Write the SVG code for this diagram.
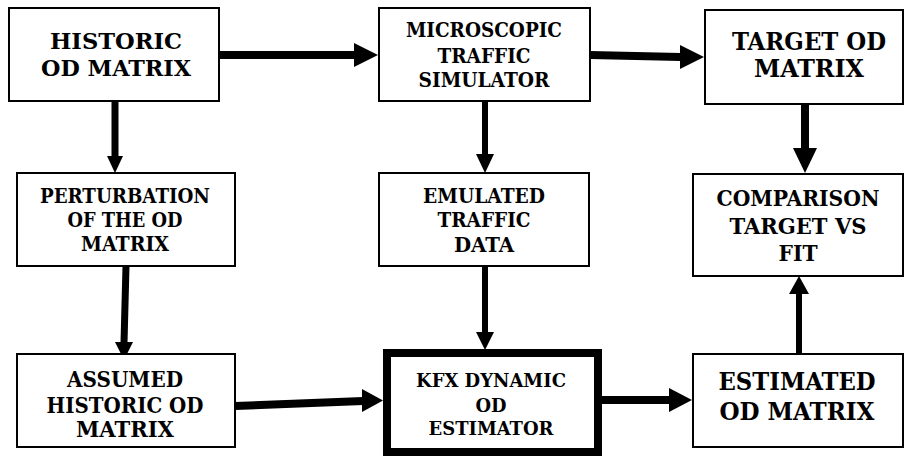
<svg xmlns="http://www.w3.org/2000/svg" width="905" height="457" viewBox="0 0 905 457">
  <style>
    .box { fill: #fff; stroke: #000; stroke-width: 2; }
    .thick { fill: #fff; stroke: #000; stroke-width: 8; }
    .t { font-family: 'DejaVu Serif Condensed', 'DejaVu Serif', serif; font-weight: bold; fill: #000; text-anchor: middle; }
    .lg { font-size: 24px; }
    .md { font-size: 21.8px; }
    .sm { font-size: 19.5px; }
    .xs { font-size: 19px; }
    .shaft { stroke: #000; fill: none; stroke-linecap: butt; }
    .head { fill: #000; stroke: none; }
  </style>
  <rect width="905" height="457" fill="#fff"/>

  <g id="connectors">
    <!-- historic -> simulator -->
    <line class="shaft" x1="219" y1="55" x2="355" y2="55" stroke-width="8"/>
    <polygon class="head" points="354,43 378,55 354,67"/>
    <!-- simulator -> target -->
    <line class="shaft" x1="590" y1="55" x2="681" y2="57" stroke-width="8"/>
    <polygon class="head" points="680,45 704,57 680,69"/>
    <!-- historic -> perturbation -->
    <line class="shaft" x1="115" y1="101" x2="115" y2="157" stroke-width="7"/>
    <polygon class="head" points="107,156 115,173 123,156"/>
    <!-- simulator -> emulated data -->
    <line class="shaft" x1="485" y1="101" x2="485" y2="155" stroke-width="6"/>
    <polygon class="head" points="476,154 485,173 494,154"/>
    <!-- target -> comparison -->
    <line class="shaft" x1="805" y1="104" x2="805" y2="149" stroke-width="8"/>
    <polygon class="head" points="793,148 805,173 817,148"/>
    <!-- perturbation -> assumed -->
    <line class="shaft" x1="126" y1="266" x2="124" y2="343" stroke-width="7"/>
    <polygon class="head" points="115,342 124,360 133,342"/>
    <!-- emulated data -> estimator -->
    <line class="shaft" x1="485" y1="266" x2="485" y2="333" stroke-width="6"/>
    <polygon class="head" points="476,332 485,350 494,332"/>
    <!-- assumed -> estimator -->
    <line class="shaft" x1="235" y1="406" x2="363" y2="401" stroke-width="8"/>
    <polygon class="head" points="362,389 383,400.5 362,412"/>
    <!-- estimator -> estimated -->
    <line class="shaft" x1="602" y1="400" x2="670" y2="400" stroke-width="8"/>
    <polygon class="head" points="669,388 692,400 669,412"/>
    <!-- estimated -> comparison -->
    <line class="shaft" x1="799" y1="353" x2="799" y2="293" stroke-width="6"/>
    <polygon class="head" points="789,294 799,276 809,294"/>
  </g>

  <g id="historic">
    <rect class="box" x="9" y="8" width="210" height="93"/>
    <text class="t" style="font-size:23px" x="116" y="49" textLength="132" lengthAdjust="spacingAndGlyphs">HISTORIC</text>
    <text class="t" style="font-size:23px" x="116" y="76" textLength="150" lengthAdjust="spacingAndGlyphs">OD MATRIX</text>
  </g>

  <g id="simulator">
    <rect class="box" x="379" y="8" width="211" height="93"/>
    <text class="t sm" x="484" y="37" textLength="156" lengthAdjust="spacingAndGlyphs">MICROSCOPIC</text>
    <text class="t sm" x="484" y="63" textLength="93" lengthAdjust="spacingAndGlyphs">TRAFFIC</text>
    <text class="t sm" x="484" y="87" textLength="131" lengthAdjust="spacingAndGlyphs">SIMULATOR</text>
  </g>

  <g id="target">
    <rect class="box" x="705" y="10" width="198" height="94"/>
    <text class="t lg" x="809" y="50" textLength="154" lengthAdjust="spacingAndGlyphs">TARGET OD</text>
    <text class="t lg" x="809" y="77" textLength="110" lengthAdjust="spacingAndGlyphs">MATRIX</text>
  </g>

  <g id="perturbation">
    <rect class="box" x="17" y="173" width="218" height="93"/>
    <text class="t sm" x="125" y="203" textLength="170" lengthAdjust="spacingAndGlyphs">PERTURBATION</text>
    <text class="t sm" x="125" y="227" textLength="115" lengthAdjust="spacingAndGlyphs">OF THE OD</text>
    <text class="t sm" x="125" y="251" textLength="88" lengthAdjust="spacingAndGlyphs">MATRIX</text>
  </g>

  <g id="emulated">
    <rect class="box" x="379" y="173" width="210" height="93"/>
    <text class="t sm" x="484" y="203" textLength="122" lengthAdjust="spacingAndGlyphs">EMULATED</text>
    <text class="t sm" x="484" y="227" textLength="93" lengthAdjust="spacingAndGlyphs">TRAFFIC</text>
    <text class="t sm" x="484" y="252" textLength="60" lengthAdjust="spacingAndGlyphs">DATA</text>
  </g>

  <g id="comparison">
    <rect class="box" x="693" y="174" width="210" height="102"/>
    <text class="t md" x="798" y="206" textLength="163" lengthAdjust="spacingAndGlyphs">COMPARISON</text>
    <text class="t md" x="798" y="234" textLength="137" lengthAdjust="spacingAndGlyphs">TARGET VS</text>
    <text class="t md" x="798" y="261" textLength="39" lengthAdjust="spacingAndGlyphs">FIT</text>
  </g>

  <g id="assumed">
    <rect class="box" x="17" y="354" width="218" height="93"/>
    <text class="t md" x="125" y="387" textLength="116" lengthAdjust="spacingAndGlyphs">ASSUMED</text>
    <text class="t md" x="125" y="413" textLength="157" lengthAdjust="spacingAndGlyphs">HISTORIC OD</text>
    <text class="t md" x="125" y="437" textLength="98" lengthAdjust="spacingAndGlyphs">MATRIX</text>
  </g>

  <g id="estimator">
    <rect class="thick" x="387" y="353" width="211" height="99"/>
    <text class="t xs" x="491" y="387" textLength="150" lengthAdjust="spacingAndGlyphs">KFX DYNAMIC</text>
    <text class="t xs" x="491" y="412" textLength="31" lengthAdjust="spacingAndGlyphs">OD</text>
    <text class="t xs" x="491" y="435" textLength="125" lengthAdjust="spacingAndGlyphs">ESTIMATOR</text>
  </g>

  <g id="estimated">
    <rect class="box" x="693" y="354" width="210" height="93"/>
    <text class="t lg" x="797" y="390" textLength="157" lengthAdjust="spacingAndGlyphs">ESTIMATED</text>
    <text class="t lg" x="797" y="420" textLength="155" lengthAdjust="spacingAndGlyphs">OD MATRIX</text>
  </g>
</svg>
